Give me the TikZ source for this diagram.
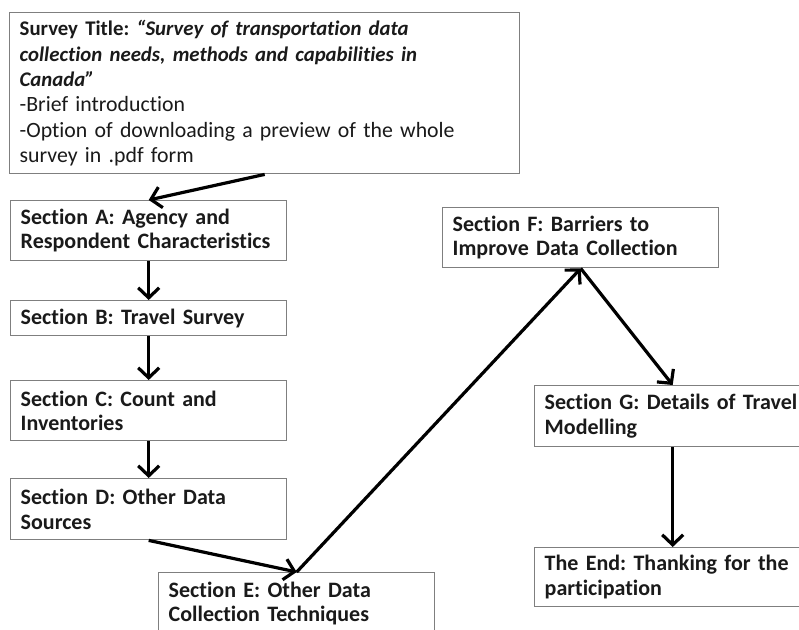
\documentclass[tikz,border=0pt]{standalone}
\usepackage{fontspec}
\setmainfont{Carlito}[Ligatures={NoCommon}]
\usetikzlibrary{arrows.meta}
\definecolor{boxgray}{HTML}{7F7F7F}
\definecolor{textdark}{HTML}{1A1A1A}
\frenchspacing
\begin{document}
\begin{tikzpicture}[x=1pt,y=1pt,
  basebox/.style={draw=boxgray, line width=1.4pt, fill=white, anchor=north west,
    inner xsep=10pt, inner ysep=0pt, align=left, text=textdark},
  box/.style={basebox, minimum width=276pt, text width=256pt, minimum height=#1,
    font=\fontsize{22}{24.5}\selectfont\bfseries},
  arr/.style={line width=3.2pt, -{Straight Barb[length=10pt,width=21pt,line width=3.2pt]}}]
\useasboundingbox (0,0) rectangle (799,-629);
\clip (0,0) rectangle (799,-629);
\node[basebox, minimum width=510pt, text width=490pt, minimum height=161pt,
  font=\fontsize{21.8}{25.3}\selectfont] (top) at (9,-12)
  {{\fontsize{20.8}{25.3}\selectfont\bfseries Survey Title: \textit{“Survey of transportation data\\collection needs, methods and capabilities in\\Canada”}}\\
  -Brief introduction\\
  -Option of downloading a preview of the whole\\
  survey in .pdf form};
\node[box=60pt] (A) at (10,-200) {Section A: Agency and\\Respondent Characteristics};
\node[box=35pt] (B) at (10,-300) {Section B: Travel Survey};
\node[box=60pt] (C) at (10,-380) {Section C: Count and\\Inventories};
\node[box=61pt] (D) at (10,-478) {Section D: Other Data\\Sources};
\node[box=62pt] (E) at (158,-572) {Section E: Other Data\\Collection Techniques};
\node[box=60pt] (F) at (442,-207) {Section F: Barriers to\\Improve Data Collection};
\node[box=61pt] (G) at (534,-385) {Section G: Details of Travel\\Modelling};
\node[box=59pt] (End) at (534,-547) {The End: Thanking for the\\participation};
\draw[arr] (top.south) -- (A.north);
\draw[arr] (A.south) -- (B.north);
\draw[arr] (B.south) -- (C.north);
\draw[arr] (C.south) -- (D.north);
\draw[arr] (D.south) -- (E.north);
\draw[arr] (E.north) -- (F.south);
\draw[arr] (F.south) -- (G.north);
\draw[arr] (G.south) -- (End.north);
\end{tikzpicture}
\end{document}
